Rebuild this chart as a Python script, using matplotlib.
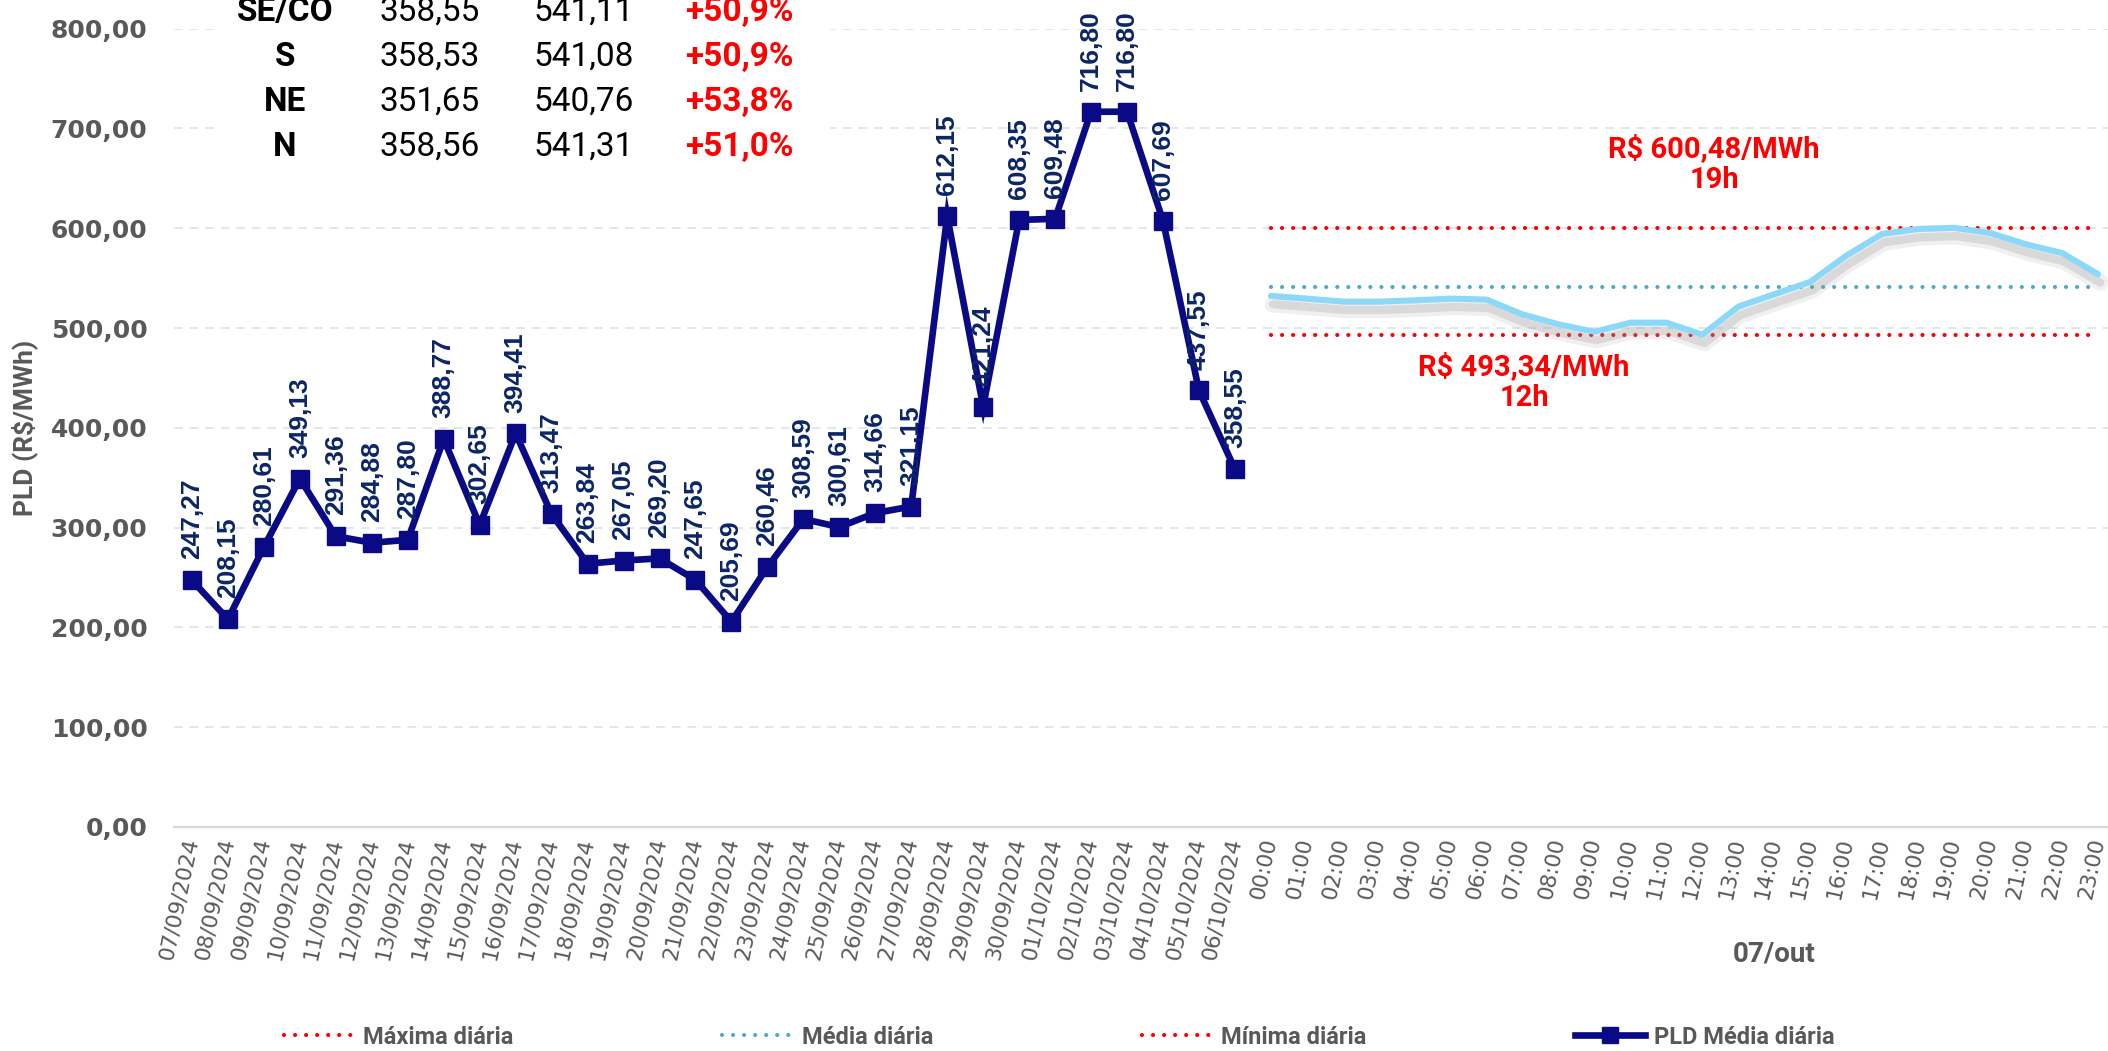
import numpy as np
import matplotlib
matplotlib.use("Agg")
import matplotlib.pyplot as plt
from matplotlib.lines import Line2D
from matplotlib.patches import Rectangle
import matplotlib.patheffects as pe

# ---------------- data ----------------
dates = ['07/09/2024', '08/09/2024', '09/09/2024', '10/09/2024', '11/09/2024',
         '12/09/2024', '13/09/2024', '14/09/2024', '15/09/2024', '16/09/2024',
         '17/09/2024', '18/09/2024', '19/09/2024', '20/09/2024', '21/09/2024',
         '22/09/2024', '23/09/2024', '24/09/2024', '25/09/2024', '26/09/2024',
         '27/09/2024', '28/09/2024', '29/09/2024', '30/09/2024', '01/10/2024',
         '02/10/2024', '03/10/2024', '04/10/2024', '05/10/2024', '06/10/2024']
pld_daily = [247.27, 208.15, 280.61, 349.13, 291.36, 284.88, 287.80, 388.77,
             302.65, 394.41, 313.47, 263.84, 267.05, 269.20, 247.65, 205.69,
             260.46, 308.59, 300.61, 314.66, 321.15, 612.15, 421.24, 608.35,
             609.48, 716.80, 716.80, 607.69, 437.55, 358.55]

hours = ['00:00', '01:00', '02:00', '03:00', '04:00', '05:00', '06:00', '07:00',
         '08:00', '09:00', '10:00', '11:00', '12:00', '13:00', '14:00', '15:00',
         '16:00', '17:00', '18:00', '19:00', '20:00', '21:00', '22:00', '23:00']
pld_hourly = [532.2, 529.5, 526.5, 526.5, 527.8, 529.5, 528.5, 513.7, 503.7,
              496.3, 505.4, 505.4, 493.34, 521.5, 533.9, 546.3, 572.5, 594.3,
              599.3, 600.48, 595.3, 583.9, 575.2, 554.0]
media_diaria = 541.11
day_label = '07/out'

regions = ['SE/CO', 'S', 'NE', 'N']
pld_prev = [358.55, 358.53, 351.65, 358.56]
pld_curr = [541.11, 541.08, 540.76, 541.31]

yticks = [0, 100, 200, 300, 400, 500, 600, 700, 800]

# ---------------- style ----------------
W, H = 2108, 1051
NAVY = '#0a0a86'
LABEL = '#0b2566'
GRAY = '#595959'
RED = '#ff0000'
TEAL = '#4bacc6'
LIGHTBLUE = '#8bd8f8'
FONT = ['Roboto', 'DejaVu Sans']

def br(v):
    return f"{v:.2f}".replace('.', ',')

def fx(px):
    return px / W

def fy(py):
    return 1 - py / H

fig = plt.figure(figsize=(W / 100, H / 100), dpi=100)
ax = fig.add_axes([fx(174), fy(827), (2116 - 174) / W, (827 - 28.7) / H])

n_d = len(dates)
n_h = len(hours)
x_d = np.arange(n_d)
x_h = np.arange(n_d, n_d + n_h)

ax.set_xlim(-0.5, n_d + n_h - 0.5)
ax.set_ylim(0, 800)

# grid
ax.set_axisbelow(True)
ax.yaxis.grid(True, color='#e1e8eb', lw=1.4, linestyle=(0, (4.5, 3.5)))
for s in ['top', 'right', 'left']:
    ax.spines[s].set_visible(False)
ax.spines['bottom'].set_color('#d9d9d9')
ax.spines['bottom'].set_linewidth(1.6)

# ticks
ax.set_yticks(yticks)
ax.set_yticklabels([br(v) for v in yticks], fontsize=18, fontweight='bold',
                   color=GRAY, family='DejaVu Sans')
ax.set_xticks(np.concatenate([x_d, x_h]))
ax.set_xticklabels(dates + hours, fontsize=15.5, color=GRAY, family='DejaVu Sans',
                   rotation=78, ha='right', va='center', rotation_mode='anchor')
ax.tick_params(axis='y', length=0, pad=19)
ax.tick_params(axis='x', length=0, pad=8)

# daily line
ax.plot(x_d, pld_daily, color=NAVY, lw=4.8, marker='s', ms=12.7,
        solid_joinstyle='miter', zorder=4)
for xi, v in zip(x_d, pld_daily):
    ax.annotate(br(v), (xi, v), xytext=(0, 15), textcoords='offset points',
                rotation=90, ha='center', va='bottom', fontsize=19,
                fontweight='bold', color=LABEL, family='Liberation Sans', zorder=6)

# hourly reference lines
vmax = max(pld_hourly)
vmin = min(pld_hourly)
hmax = hours[int(np.argmax(pld_hourly))][:2]
hmin = hours[int(np.argmin(pld_hourly))][:2]
dot = (0, (0.01, 2.64))
ax.plot([x_h[0], x_h[-1]], [vmax, vmax], color=RED, lw=3, linestyle=dot,
        dash_capstyle='round', zorder=3)
ax.plot([x_h[0], x_h[-1]], [vmin, vmin], color=RED, lw=3, linestyle=dot,
        dash_capstyle='round', zorder=3)
ax.plot([x_h[0], x_h[-1]], [media_diaria, media_diaria], color=TEAL, lw=3,
        linestyle=dot, dash_capstyle='round', zorder=3)

# hourly line with shadow
ax.plot(x_h, pld_hourly, color=LIGHTBLUE, lw=4.4, zorder=4,
        solid_joinstyle='round', solid_capstyle='round',
        path_effects=[pe.SimpleLineShadow(offset=(1.5, -6), shadow_color='#a0a0a0',
                                          alpha=0.15, linewidth=12),
                      pe.SimpleLineShadow(offset=(1.5, -6), shadow_color='#8a8a8a',
                                          alpha=0.22, linewidth=6),
                      pe.Normal()])

# annotations of max/min
fig.text(fx(1714), fy(164), f"R$ {br(vmax)}/MWh\n{hmax}h", ha='center', va='center',
         fontsize=21, fontweight='bold', color=RED, family=FONT, linespacing=1.12)
fig.text(fx(1524), fy(382), f"R$ {br(vmin)}/MWh\n{hmin}h", ha='center', va='center',
         fontsize=21, fontweight='bold', color=RED, family=FONT, linespacing=1.12)

# day label and y label
fig.text(fx(1774), fy(954), day_label, ha='center', va='center', fontsize=20,
         fontweight='bold', color=GRAY, family=FONT)
fig.text(fx(25), fy(428), 'PLD (R$/MWh)', ha='center', va='center', rotation=90,
         fontsize=19, fontweight='bold', color=GRAY, family=FONT)

# table (top)
fig.add_artist(Rectangle((fx(220), fy(175)), 610 / W, 175 / H, transform=fig.transFigure,
                         facecolor='white', edgecolor='none', zorder=2))
row_base = [21, 66, 111, 156]
for r, p, c, yb in zip(regions, pld_prev, pld_curr, row_base):
    var = (c / p - 1) * 100
    fig.text(fx(285), fy(yb), r, ha='center', va='baseline', fontsize=24,
             fontweight='bold', color='black', family=FONT, zorder=3)
    fig.text(fx(430), fy(yb), br(p), ha='center', va='baseline', fontsize=24,
             color='black', family=FONT, zorder=3)
    fig.text(fx(584), fy(yb), br(c), ha='center', va='baseline', fontsize=24,
             color='black', family=FONT, zorder=3)
    fig.text(fx(739), fy(yb), f"+{var:.1f}%".replace('.', ','), ha='center',
             va='baseline', fontsize=24, fontweight='bold', color=RED, family=FONT,
             zorder=3)

# legend
handles = [
    Line2D([], [], color=RED, lw=3, linestyle=dot, dash_capstyle='round'),
    Line2D([], [], color=TEAL, lw=3, linestyle=dot, dash_capstyle='round'),
    Line2D([], [], color=RED, lw=3, linestyle=dot, dash_capstyle='round'),
    Line2D([], [], color=NAVY, lw=4.8, marker='s', ms=11),
]
labels = ['Máxima diária', 'Média diária', 'Mínima diária', 'PLD Média diária']
fig.legend(handles, labels, loc='center left', bbox_to_anchor=(fx(284), fy(1037)),
           ncol=4, frameon=False, borderpad=0, borderaxespad=0,
           handlelength=2.97, handletextpad=0.38, columnspacing=8.85,
           prop={'family': FONT, 'weight': 'bold', 'size': 17}, labelcolor=GRAY)

fig.savefig('out.png', dpi=100, facecolor='white')
